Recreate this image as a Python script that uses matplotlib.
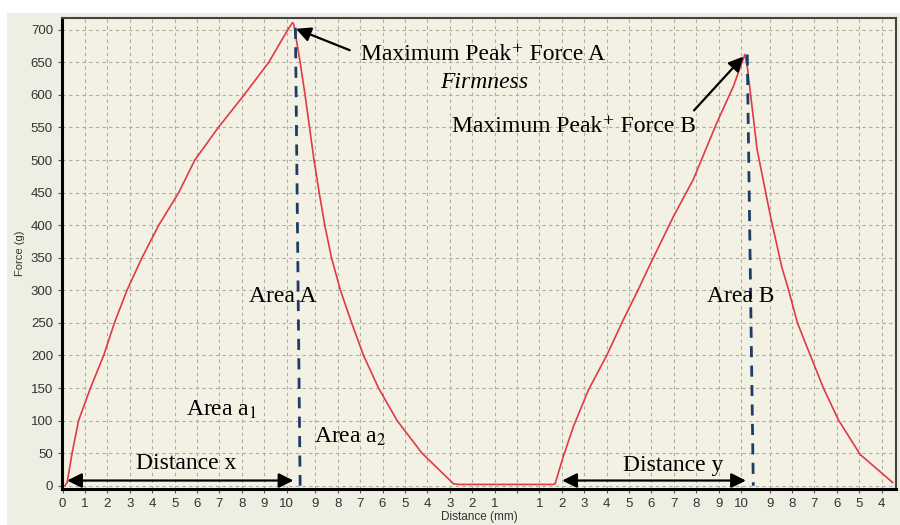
import matplotlib
matplotlib.use("Agg")
import matplotlib.pyplot as plt
from matplotlib.patches import Rectangle

plt.rcParams["mathtext.fontset"] = "stix"

# probe travel (mm, cumulative over both compressions) and force (g)
travel = [0.1, 0.2, 0.42, 0.71, 1.24, 1.83, 2.31, 2.87, 3.54, 4.29, 5.18, 5.9, 6.95, 8.1, 9.2, 10.05, 10.26,
          10.32, 10.6, 10.82, 11.02, 11.22, 11.45, 11.7, 12.0, 12.4, 12.9, 13.43, 14.1, 14.93, 16.04, 17.45,
          17.7, 21.9,
          21.98, 22.35, 22.8, 23.47, 24.3, 25.03, 25.65, 26.2, 27.26, 28.15, 29.2, 29.94, 30.45,
          30.56, 31.0, 31.6, 32.1, 32.4, 32.8, 33.4, 33.96, 34.63, 35.6, 37.05]
force = [0, 5, 50, 100, 150, 200, 250, 300, 350, 400, 450, 500, 550, 600, 650, 700, 711,
         708, 650, 600, 550, 500, 450, 400, 350, 300, 250, 200, 150, 100, 50, 3,
         2, 2,
         3, 45, 91, 147, 201, 255, 298, 338, 413, 470, 557, 613, 662,
         644, 516, 413, 336, 301, 250, 198, 150, 101, 48, 5]

# distance scale: down 0..10.14 mm, back up, down again
depth = 10.14
down_1 = list(range(0, 11))
up_1 = list(range(9, 0, -1))
down_2 = list(range(1, 11))
up_2 = list(range(9, 3, -1))

tick_pos = (down_1 + [2 * depth - d for d in up_1] + [2 * depth]
            + [2 * depth + d for d in down_2] + [4 * depth - d for d in up_2])
tick_labels = ([str(d) for d in down_1] + [str(d) for d in up_1] + [""]
               + [str(d) for d in down_2] + [str(d) for d in up_2])

y_ticks = list(range(0, 701, 50))

fig = plt.figure(figsize=(9, 5.25), dpi=100)
fig.patch.set_facecolor("white")
fig.patches.append(Rectangle((7 / 900, 0), 893 / 900, 512 / 525, transform=fig.transFigure,
                             facecolor="#efeee2", edgecolor="none", zorder=-10))

ax = fig.add_axes([62 / 900, 36 / 525, 834 / 900, 471 / 525])
ax.set_facecolor("#f3f1e4")

ax.plot(travel, force, color="#e03a45", lw=1.2, zorder=3)

# dashed peak lines
ax.plot([10.39, 10.6], [703, 0], color="#1f3c66", lw=2, dashes=(4, 3), zorder=4)
ax.plot([30.56, 30.83], [662, 0], color="#1f3c66", lw=2, dashes=(4, 3), zorder=4)

ax.set_xlim(-0.03, 37.2)
ax.set_ylim(-5, 718)
ax.set_xticks(tick_pos)
ax.set_xticklabels(tick_labels)
ax.set_yticks(y_ticks)
ax.tick_params(axis="both", labelsize=9.5, labelcolor="#333333", color="#555555", length=3)
for lab in ax.get_xticklabels() + ax.get_yticklabels():
    lab.set_fontfamily("Liberation Sans")
ax.grid(True, color="#aeaba0", lw=0.8, linestyle=(0, (3, 3)))
ax.set_axisbelow(True)

for side in ["left", "bottom"]:
    ax.spines[side].set_linewidth(2.2)
    ax.spines[side].set_color("black")
for side in ["top", "right"]:
    ax.spines[side].set_linewidth(1.5)
    ax.spines[side].set_color("#444444")

ax.set_xlabel("Distance (mm)", fontsize=8.5, family="Liberation Sans", color="#333333", labelpad=1)
ax.set_ylabel("Force (g)", fontsize=8, family="Liberation Sans", color="#333333", labelpad=4)

serif = dict(family=["Liberation Serif", "DejaVu Serif"], fontsize=17, color="black",
             ha="center", va="center", zorder=6)

ax.annotate("", xy=(10.3, 703), xytext=(12.93, 667),
            arrowprops=dict(arrowstyle="-|>", mutation_scale=22, lw=1.6, color="black"))
ax.text(18.76, 662, "Maximum Peak\u207a Force A", **serif)
ax.text(18.83, 619, "Firmness", style="italic", **serif)

ax.annotate("", xy=(30.47, 662), xytext=(28.1, 573),
            arrowprops=dict(arrowstyle="-|>", mutation_scale=22, lw=1.6, color="black"))
ax.text(22.84, 551, "Maximum Peak\u207a Force B", **serif)

ax.text(9.83, 290, "Area A", **serif)
ax.text(30.28, 290, "Area B", **serif)
ax.text(7.11, 117, "Area a$_{1}$", **serif)
ax.text(12.84, 75, "Area a$_{2}$", **serif)
ax.text(5.52, 34, "Distance x", **serif)
ax.text(27.25, 31, "Distance y", **serif)

ax.annotate("", xy=(0.2, 8), xytext=(10.3, 8),
            arrowprops=dict(arrowstyle="<|-|>", mutation_scale=22, lw=1.6, color="black",
                            shrinkA=0, shrinkB=0))
ax.annotate("", xy=(22.3, 8), xytext=(30.5, 8),
            arrowprops=dict(arrowstyle="<|-|>", mutation_scale=22, lw=1.6, color="black",
                            shrinkA=0, shrinkB=0))

fig.savefig("out.png", dpi=100)
